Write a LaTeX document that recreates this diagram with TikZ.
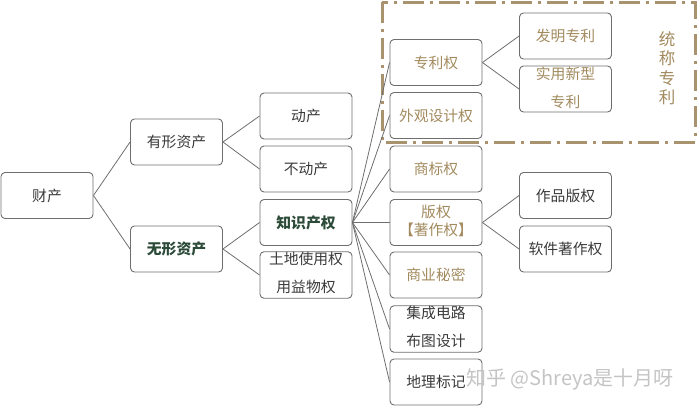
\documentclass[tikz,border=0pt]{standalone}
\usepackage{fontspec}
\setmainfont{Noto Sans CJK SC}
\newfontfamily\cjk{Noto Sans CJK SC}
\definecolor{boxline}{HTML}{6E6E6E}
\definecolor{tan}{HTML}{A28A5E}
\definecolor{dashc}{HTML}{A8936E}
\definecolor{darktxt}{HTML}{3A3A3A}
\definecolor{greentxt}{HTML}{2C4A38}
\definecolor{wm}{HTML}{C4C4C4}
\begin{document}
\begin{tikzpicture}[x=1pt,y=-1pt,
  box/.style={draw=boxline,line width=0.9pt,rounded corners=4pt,minimum width=92pt,minimum height=46pt,
    inner sep=0pt,align=center,font=\cjk\fontsize{14.8}{16}\selectfont,text=darktxt},
  tanbox/.style={box,text=tan},
  boldbox/.style={box,text=greentxt,font=\cjk\bfseries\fontsize{14.8}{16}\selectfont},
  twoline/.style={font=\cjk\fontsize{14.8}{28}\selectfont},
  conn/.style={draw=boxline,line width=0.8pt}]
\useasboundingbox (0,0) rectangle (700,410);
% dashed frame
\draw[dashc,line width=3pt,dash pattern=on 21pt off 6pt on 3pt off 6pt] (382,2) rectangle (695,142);
\node[text=tan,font=\cjk\fontsize{16.5}{19.5}\selectfont,align=center,inner sep=0pt] (tc) at (667,68) {统\\称\\专\\利};
% nodes
\node[box] (cc) at (47,195.5) {财产};
\node[box] (yx) at (176.5,142) {有形资产};
\node[boldbox] (wx) at (176.5,249) {无形资产};
\node[box] (dc) at (306,116) {动产};
\node[box] (bdc) at (306,169) {不动产};
\node[boldbox] (zs) at (306,222.5) {知识产权};
\node[box,twoline] (td) at (306,275) {\raisebox{6pt}{土地使用权}\\\raisebox{6pt}{用益物权}};
\node[tanbox] (zl) at (436,62.5) {专利权};
\node[tanbox] (wg) at (436,115.5) {外观设计权};
\node[tanbox] (sb) at (436,169) {商标权};
\node[tanbox,font=\cjk\fontsize{14.8}{16}\selectfont] (bq) at (436,222.5) {\raisebox{4pt}{版权}\\\raisebox{4pt}{【著作权】}};
\node[tanbox] (sy) at (436,275) {商业秘密};
\node[box,twoline] (jc) at (436,329) {\raisebox{6pt}{集成电路}\\\raisebox{6pt}{布图设计}};
\node[box] (dl) at (436,382) {地理标记};
\node[tanbox] (fm) at (565.5,36) {发明专利};
\node[tanbox,twoline] (sx) at (565.5,89) {\raisebox{4pt}{实用新型}\\\raisebox{4pt}{专利}};
\node[box] (zp) at (565.5,195.5) {作品版权};
\node[box] (rj) at (565.5,249) {软件著作权};
% connectors
\draw[conn] (cc.east) -- (yx.west);
\draw[conn] (cc.east) -- (wx.west);
\draw[conn] (yx.east) -- (dc.west);
\draw[conn] (yx.east) -- (bdc.west);
\draw[conn] (wx.east) -- (zs.west);
\draw[conn] (wx.east) -- (td.west);
\foreach \t in {zl,wg,sb,bq,sy,jc,dl} \draw[conn] (zs.east) -- (\t.west);
\draw[conn] (zl.east) -- (fm.west);
\draw[conn] (zl.east) -- (sx.west);
\draw[conn] (bq.east) -- (zp.west);
\draw[conn] (bq.east) -- (rj.west);
% watermark
\node[text=wm,font=\cjk\fontsize{20}{22}\selectfont,anchor=west,inner sep=0pt] (wmk) at (466,379) {知乎 @Shreya是十月呀};
\end{tikzpicture}
\end{document}
